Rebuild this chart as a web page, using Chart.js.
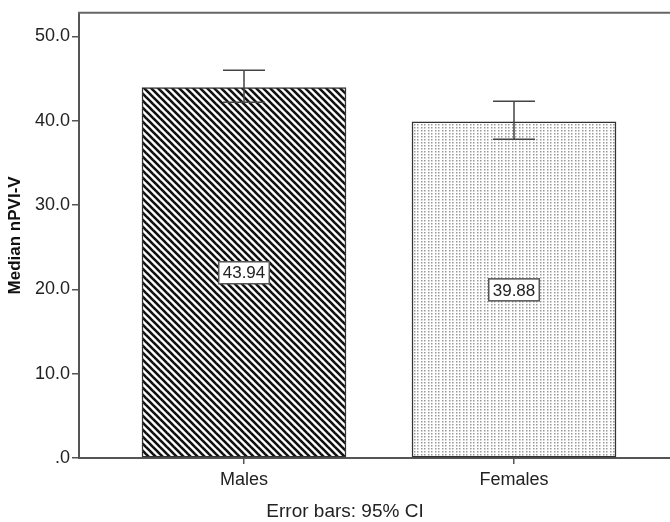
<!DOCTYPE html>
<html>
<head>
<meta charset="utf-8">
<script src="https://cdn.jsdelivr.net/npm/chart.js@4.4.0/dist/chart.umd.min.js"></script>
<style>
  html, body { margin: 0; padding: 0; background: #fff; }
  #c { display: block; }
</style>
</head>
<body>
<canvas id="c" width="670" height="522"></canvas>
<script>
// ---- data ----
const categories = ['Males', 'Females'];
const categoryPos = [1, 2];
const medians = [43.94, 39.88];
const ciLower = [42.2, 37.8];
const ciUpper = [46.0, 42.3];
const yTicks = [0, 10, 20, 30, 40, 50];
const yTickLabels = ['.0', '10.0', '20.0', '30.0', '40.0', '50.0'];
const footnote = 'Error bars: 95% CI';
const yTitle = 'Median nPVI-V';

// ---- patterns ----
function stripePattern() {
  const n = 7;
  const t = document.createElement('canvas');
  t.width = n; t.height = n;
  const g = t.getContext('2d');
  g.fillStyle = '#fff'; g.fillRect(0, 0, n, n);
  g.strokeStyle = '#111'; g.lineWidth = 2.6;
  for (const o of [-n, 0, n]) {
    g.beginPath(); g.moveTo(o - 1, -1); g.lineTo(o + n + 1, n + 1); g.stroke();
  }
  return g.createPattern(t, 'repeat');
}
function dotPattern() {
  const t = document.createElement('canvas');
  t.width = 7; t.height = 3;
  const g = t.getContext('2d');
  g.fillStyle = '#fff'; g.fillRect(0, 0, 7, 3);
  g.fillStyle = '#999';
  g.fillRect(1, 1, 1.5, 1.5);
  g.fillRect(4, 1, 1.5, 1.5);
  return g.createPattern(t, 'repeat');
}

const FONT = '"Liberation Sans", Arial, sans-serif';
const TXT = '#222';
const AX = '#555';

const extras = {
  id: 'extras',
  afterDatasetsDraw(chart) {
    const ctx = chart.ctx, x = chart.scales.x, y = chart.scales.y;
    ctx.save();
    // error bars
    ctx.strokeStyle = '#444'; ctx.lineWidth = 1.5;
    categoryPos.forEach((p, i) => {
      const px = x.getPixelForValue(p);
      const yl = y.getPixelForValue(ciLower[i]), yu = y.getPixelForValue(ciUpper[i]);
      ctx.beginPath();
      ctx.moveTo(px, yl); ctx.lineTo(px, yu);
      ctx.moveTo(px - 21, yu); ctx.lineTo(px + 21, yu);
      ctx.moveTo(px - 21, yl); ctx.lineTo(px + 21, yl);
      ctx.stroke();
    });
    // value labels
    ctx.font = '17px ' + FONT;
    ctx.textAlign = 'center'; ctx.textBaseline = 'middle';
    categoryPos.forEach((p, i) => {
      const px = x.getPixelForValue(p);
      const py = y.getPixelForValue(medians[i] / 2);
      const txt = medians[i].toFixed(2);
      const w = ctx.measureText(txt).width + 8, h = 22;
      ctx.fillStyle = '#fff';
      ctx.fillRect(px - w / 2, py - h / 2, w, h);
      ctx.strokeStyle = '#555'; ctx.lineWidth = 1.5;
      ctx.strokeRect(px - w / 2, py - h / 2, w, h);
      ctx.fillStyle = TXT;
      ctx.fillText(txt, px, py + 1);
    });
    ctx.restore();
  },
  afterDraw(chart) {
    const ctx = chart.ctx, a = chart.chartArea;
    ctx.save();
    ctx.strokeStyle = '#666'; ctx.lineWidth = 2;
    ctx.beginPath(); ctx.moveTo(a.left - 1, a.top); ctx.lineTo(a.right, a.top); ctx.stroke();
    ctx.fillStyle = TXT;
    ctx.font = '19px ' + FONT;
    ctx.textAlign = 'center'; ctx.textBaseline = 'middle';
    ctx.fillText(footnote, 345, 512);
    ctx.restore();
  }
};

new Chart(document.getElementById('c'), {
  type: 'bar',
  data: {
    datasets: [{
      data: categoryPos.map((p, i) => ({ x: p, y: medians[i] })),
      backgroundColor: [stripePattern(), dotPattern()],
      borderColor: '#333',
      borderWidth: 1.5,
      borderSkipped: false,
      barThickness: 204
    }]
  },
  options: {
    responsive: false,
    animation: false,
    devicePixelRatio: 1,
    layout: { padding: { top: 8, left: 0, right: 0, bottom: 0 } },
    plugins: { legend: { display: false }, tooltip: { enabled: false } },
    scales: {
      x: {
        type: 'linear',
        min: 1 - 165 / 270,
        max: 2 + 156 / 270,
        offset: false,
        afterBuildTicks: s => { s.ticks = categoryPos.map(v => ({ value: v })); },
        afterFit: s => { s.height = 64; },
        ticks: {
          autoSkip: false, maxRotation: 0, padding: 5,
          color: TXT, font: { family: FONT, size: 18 },
          callback: v => categories[categoryPos.indexOf(v)]
        },
        grid: { offset: false, drawOnChartArea: false, drawTicks: true, tickLength: 6, color: AX, lineWidth: 1.5 },
        border: { display: true, color: AX, width: 2 }
      },
      y: {
        min: 0,
        max: 52.8,
        afterBuildTicks: s => { s.ticks = yTicks.map(v => ({ value: v })); },
        afterFit: s => { s.width = 79; },
        ticks: {
          padding: 2, color: TXT, font: { family: FONT, size: 18 },
          callback: v => yTickLabels[yTicks.indexOf(v)]
        },
        grid: { drawOnChartArea: false, drawTicks: true, tickLength: 7, color: AX, lineWidth: 1.5 },
        border: { display: true, color: AX, width: 2 },
        title: {
          display: true, text: yTitle, color: '#111',
          font: { family: FONT, size: 17, weight: 'bold' },
          padding: { top: 5, bottom: 0 }
        }
      }
    }
  },
  plugins: [extras]
});
</script>
</body>
</html>
